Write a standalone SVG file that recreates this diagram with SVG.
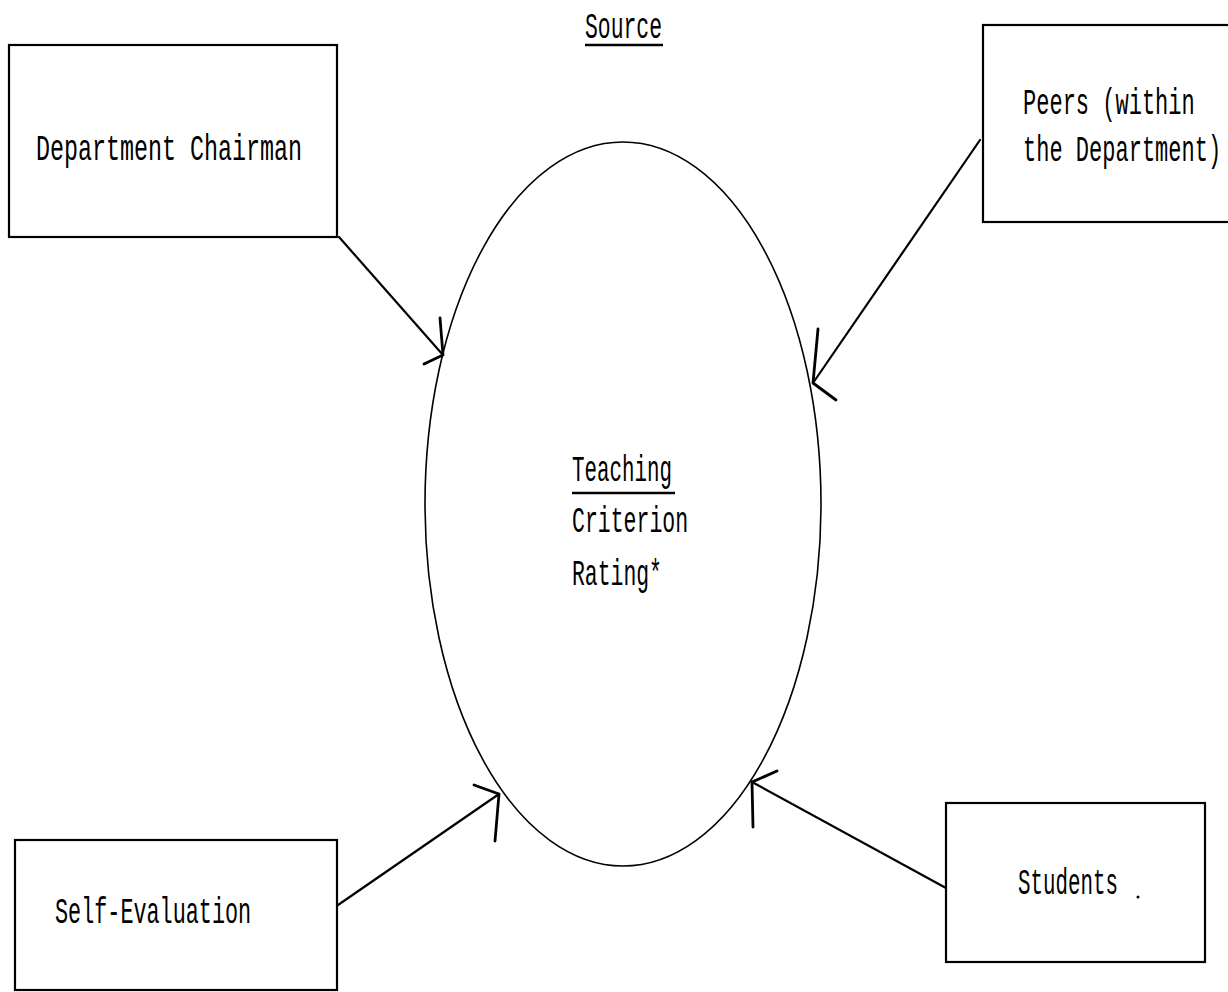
<svg xmlns="http://www.w3.org/2000/svg" width="1228" height="992" viewBox="0 0 1228 992">
  <defs>
    <style>
      .box { fill: none; stroke: #000; stroke-width: 2.2; }
      .oval { fill: none; stroke: #000; stroke-width: 1.6; }
      .link { fill: none; stroke: #000; stroke-width: 2.2; stroke-linecap: round; }
      .head { fill: none; stroke: #000; stroke-width: 2.8; stroke-linecap: round; stroke-linejoin: round; }
      .lbl { font-family: "Liberation Mono", "DejaVu Sans Mono", monospace; font-size: 37px; fill: #000; }
      .rule { stroke: #000; stroke-width: 2.5; }
    </style>
  </defs>
  <rect width="1228" height="992" fill="#fff"/>

  <!-- heading (typewriter face, narrowed horizontally) -->
  <g id="heading">
    <text class="lbl" transform="translate(585,38) scale(0.578,1)">Source</text>
    <line class="rule" x1="585" y1="45" x2="663" y2="45"/>
  </g>

  <!-- central criterion -->
  <g id="criterion">
    <ellipse class="oval" cx="623" cy="504" rx="198" ry="362"/>
    <text class="lbl" transform="translate(572,481) scale(0.563,1)">Teaching</text>
    <line class="rule" x1="572" y1="493" x2="675" y2="493"/>
    <text class="lbl" transform="translate(572,532) scale(0.581,1)">Criterion</text>
    <text class="lbl" transform="translate(572,585) scale(0.579,1)">Rating*</text>
  </g>

  <!-- sources -->
  <g id="chairman">
    <rect class="box" x="9" y="45" width="328" height="192"/>
    <text class="lbl" transform="translate(36,160) scale(0.631,1)">Department Chairman</text>
  </g>

  <g id="peers">
    <rect class="box" x="983" y="25" width="250" height="197"/>
    <text class="lbl" transform="translate(1023,114) scale(0.595,1)">Peers (within</text>
    <text class="lbl" transform="translate(1023,161) scale(0.595,1)">the Department)</text>
  </g>

  <g id="self-evaluation">
    <rect class="box" x="15" y="840" width="322" height="150"/>
    <text class="lbl" transform="translate(55,923) scale(0.589,1)">Self-Evaluation</text>
  </g>

  <g id="students">
    <rect class="box" x="946" y="803" width="259" height="159"/>
    <text class="lbl" transform="translate(1018,894) scale(0.563,1)">Students</text>
    <circle cx="1138" cy="897" r="1.5" fill="#000"/>
  </g>

  <!-- connectors: each source points into the criterion oval -->
  <g id="connectors">
    <line class="link" x1="339" y1="237" x2="443" y2="355"/>
    <path class="head" d="M440,318 L443,355 L424,364"/>

    <line class="link" x1="980" y1="140" x2="813" y2="383"/>
    <path class="head" d="M818,329 L813,383 L836,400"/>

    <line class="link" x1="338" y1="905" x2="499" y2="794"/>
    <path class="head" d="M474,785 L499,794 L495,841"/>

    <line class="link" x1="946" y1="888" x2="752" y2="782"/>
    <path class="head" d="M777,771 L752,782 L753,827"/>
  </g>
</svg>
